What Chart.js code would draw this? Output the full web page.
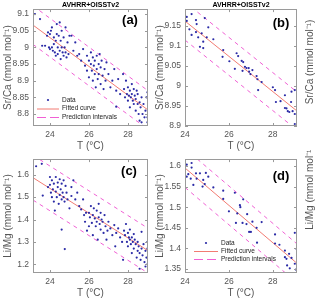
<!DOCTYPE html>
<html>
<head>
<meta charset="utf-8">
<script src="https://cdn.jsdelivr.net/npm/chart.js@4.4.0/dist/chart.umd.min.js"></script>
<style>
  html, body { margin: 0; padding: 0; background: #fff; }
  body { width: 320px; height: 300px; position: relative; overflow: hidden; }
  canvas { position: absolute; }
</style>
</head>
<body>
<canvas id="chart-a" width="160" height="153" style="left:0;top:0"></canvas>
<canvas id="chart-b" width="170" height="153" style="left:150px;top:0"></canvas>
<canvas id="chart-c" width="160" height="150" style="left:0;top:150px"></canvas>
<canvas id="chart-d" width="170" height="150" style="left:150px;top:150px"></canvas>
<script>
// Shared labels
const HEADER = 'AVHRR+OISSTv2';
const X_TITLE = 'T (°C)';
const SR_TITLE = 'Sr/Ca (mmol mol⁻¹)';
const LI_TITLE = 'Li/Mg (mmol mol⁻¹)';
const xTicks = [24, 26, 28];

// Panel (a): Sr/Ca, all samples
const aYTicks = [8.8, 8.85, 8.9, 8.95, 9, 9.05, 9.1];
const aPoints = [
    [23.23, 9.1], [23.49, 9.085], [23.6, 9.005], [23.75, 9.005], [23.85, 9.035], [23.9, 9.045],
    [23.95, 9.0], [24.0, 8.995], [24.0, 9.04], [24.05, 9.05], [24.1, 9.06], [24.1, 9.0],
    [24.15, 8.99], [24.2, 9.01], [24.2, 9.03], [24.25, 8.985], [24.3, 9.02], [24.3, 8.975],
    [24.35, 9.07], [24.35, 9.04], [24.4, 9.0], [24.4, 8.98], [24.45, 9.035], [24.5, 9.075],
    [24.5, 8.99], [24.55, 9.02], [24.55, 8.965], [24.6, 9.05], [24.6, 9.0], [24.65, 8.985],
    [24.7, 9.03], [24.7, 8.975], [24.75, 9.0], [24.8, 9.06], [24.8, 8.985], [24.85, 8.97],
    [24.9, 9.015], [24.95, 8.98], [25.0, 9.035], [25.1, 9.035], [25.2, 8.99], [25.3, 9.015],
    [25.4, 8.975], [25.5, 8.98], [25.6, 8.96], [25.7, 8.995], [25.8, 8.945], [25.9, 8.93],
    [25.9, 8.975], [26.0, 8.96], [26.0, 8.91], [26.1, 8.95], [26.1, 8.985], [26.15, 8.93],
    [26.2, 8.9], [26.2, 8.97], [26.25, 8.945], [26.3, 8.92], [26.3, 8.96], [26.35, 8.88],
    [26.4, 8.935], [26.4, 8.975], [26.45, 8.905], [26.5, 8.95], [26.5, 8.92], [26.55, 8.98],
    [26.6, 8.89], [26.6, 8.94], [26.65, 8.96], [26.7, 8.915], [26.75, 8.875], [26.8, 8.935],
    [26.85, 8.9], [26.9, 8.955], [27.0, 8.92], [27.1, 8.88], [27.2, 8.9], [27.3, 8.935],
    [27.4, 8.87], [27.4, 8.822], [27.5, 8.905], [27.6, 8.86], [27.75, 8.92], [27.8, 8.875],
    [27.85, 8.85], [27.9, 8.9], [27.95, 8.86], [28.0, 8.84], [28.0, 8.88], [28.05, 8.855],
    [28.1, 8.87], [28.1, 8.82], [28.15, 8.85], [28.2, 8.89], [28.2, 8.86], [28.25, 8.84],
    [28.3, 8.875], [28.3, 8.83], [28.35, 8.855], [28.4, 8.81], [28.4, 8.845], [28.45, 8.87],
    [28.5, 8.83], [28.5, 8.86], [28.55, 8.8], [28.6, 8.835], [28.6, 8.78], [28.65, 8.82],
    [28.7, 8.775], [28.7, 8.85], [28.75, 8.8], [28.8, 8.83], [28.85, 8.79], [28.9, 8.81],
    [28.95, 8.85], [29.0, 8.79], [29.0, 8.865], [29.0, 8.775]
];
const aFit = [[23.13, 9.067], [29.03, 8.812]];
const aUpper = [[23.13, 9.125], [29.03, 8.870]];
const aLower = [[23.13, 9.009], [29.03, 8.754]];

// Panel (b): Sr/Ca, subset
const bYTicks = [8.9, 8.95, 9, 9.05, 9.1, 9.15];
const bPoints = [
    [24.08, 9.173], [24.3, 9.18], [24.08, 9.163], [24.5, 9.165], [24.53, 9.155], [24.9, 9.17],
    [24.2, 9.142], [24.3, 9.128], [24.5, 9.135], [24.76, 9.132], [24.6, 9.122], [24.99, 9.122],
    [25.06, 9.147], [24.83, 9.111], [24.68, 9.098], [24.83, 9.095], [25.29, 9.117], [25.74, 9.09],
    [25.71, 9.073], [26.02, 9.062], [26.27, 9.043], [26.35, 9.082], [26.42, 9.075], [26.58, 9.063],
    [26.65, 9.06], [26.62, 9.038], [26.73, 9.048], [26.8, 9.045], [26.9, 9.045], [26.92, 9.036],
    [26.98, 9.03], [27.07, 9.04], [27.26, 9.025], [27.3, 9.017], [27.33, 8.99], [27.49, 9.01],
    [28.0, 8.997], [28.1, 8.99], [28.14, 8.96], [28.35, 8.962], [28.55, 8.977], [28.85, 8.986],
    [29.0, 8.99], [28.62, 8.944], [28.68, 8.937], [28.75, 8.935], [28.9, 8.937], [29.0, 8.93],
    [28.83, 8.96], [29.0, 8.905], [28.55, 8.945]
];
const bFit = [[24, 9.1625], [29.1, 8.9375]];
const bUpper = [[24, 9.21], [29.1, 8.985]];
const bLower = [[24, 9.115], [29.1, 8.89]];

// Panel (c): Li/Mg, all samples
const cYTicks = [1.2, 1.3, 1.4, 1.5, 1.6];
const cPoints = [
    [23.29, 1.638], [23.58, 1.649], [23.63, 1.507], [23.9, 1.545], [24.0, 1.59], [24.0, 1.555],
    [24.05, 1.52], [24.1, 1.575], [24.1, 1.5], [24.15, 1.535], [24.2, 1.48], [24.2, 1.56],
    [24.25, 1.44], [24.3, 1.59], [24.3, 1.525], [24.35, 1.5], [24.4, 1.565], [24.4, 1.545],
    [24.45, 1.47], [24.5, 1.58], [24.5, 1.51], [24.55, 1.535], [24.6, 1.355], [24.6, 1.56],
    [24.6, 1.49], [24.65, 1.52], [24.7, 1.575], [24.7, 1.5], [24.75, 1.48], [24.76, 1.268],
    [24.8, 1.55], [24.85, 1.52], [24.9, 1.49], [25.0, 1.45], [25.1, 1.545], [25.1, 1.505],
    [25.2, 1.575], [25.3, 1.49], [25.4, 1.52], [25.5, 1.46], [25.6, 1.445], [25.7, 1.49],
    [25.75, 1.42], [25.8, 1.39], [25.85, 1.43], [25.9, 1.35], [26.0, 1.37], [26.0, 1.43],
    [26.05, 1.41], [26.1, 1.46], [26.15, 1.385], [26.2, 1.33], [26.2, 1.42], [26.25, 1.45],
    [26.3, 1.405], [26.35, 1.37], [26.4, 1.44], [26.4, 1.39], [26.45, 1.31], [26.5, 1.47],
    [26.5, 1.41], [26.55, 1.38], [26.6, 1.43], [26.6, 1.355], [26.65, 1.4], [26.7, 1.39],
    [26.75, 1.34], [26.8, 1.42], [26.85, 1.37], [26.9, 1.31], [26.95, 1.35], [27.0, 1.39],
    [27.1, 1.36], [27.2, 1.33], [27.3, 1.375], [27.35, 1.28], [27.4, 1.34], [27.5, 1.36],
    [27.6, 1.32], [27.7, 1.3], [27.75, 1.22], [27.8, 1.35], [27.85, 1.33], [27.9, 1.38],
    [27.95, 1.3], [28.0, 1.34], [28.0, 1.28], [28.05, 1.32], [28.1, 1.31], [28.1, 1.355],
    [28.15, 1.29], [28.2, 1.32], [28.2, 1.25], [28.25, 1.3], [28.3, 1.335], [28.3, 1.27],
    [28.35, 1.31], [28.4, 1.29], [28.45, 1.23], [28.5, 1.3], [28.5, 1.26], [28.55, 1.28],
    [28.6, 1.25], [28.6, 1.18], [28.65, 1.22], [28.7, 1.27], [28.7, 1.345], [28.75, 1.24],
    [28.8, 1.29], [28.85, 1.21], [28.9, 1.26], [28.9, 1.19], [28.95, 1.23], [29.0, 1.3],
    [29.0, 1.27], [29.0, 1.2]
];
const cFit = [[23.13, 1.587], [29.03, 1.261]];
const cUpper = [[23.13, 1.687], [29.03, 1.361]];
const cLower = [[23.13, 1.487], [29.03, 1.161]];

// Panel (d): Li/Mg, subset
const dYTicks = [1.35, 1.4, 1.45, 1.5, 1.55, 1.6];
const dPoints = [
    [24.08, 1.603], [24.3, 1.607], [24.3, 1.596], [24.08, 1.574], [24.15, 1.58], [24.26, 1.569],
    [24.38, 1.554], [24.5, 1.582], [24.53, 1.569], [24.68, 1.582], [24.83, 1.566], [24.8, 1.55],
    [24.9, 1.556], [24.95, 1.583], [25.06, 1.574], [25.29, 1.548], [25.74, 1.54], [25.74, 1.52],
    [26.27, 1.535], [26.0, 1.49], [26.38, 1.485], [26.32, 1.462], [26.5, 1.505], [26.52, 1.5],
    [26.65, 1.519], [26.62, 1.462], [26.8, 1.459], [26.83, 1.483], [26.92, 1.44], [27.0, 1.44],
    [27.07, 1.465], [27.26, 1.45], [27.28, 1.414], [27.49, 1.464], [28.1, 1.434], [28.1, 1.412],
    [28.3, 1.409], [28.55, 1.395], [28.55, 1.379], [28.62, 1.375], [28.65, 1.359], [28.74, 1.387],
    [28.85, 1.377], [28.77, 1.352], [29.0, 1.438], [29.08, 1.399], [29.0, 1.363], [29.05, 1.349]
];
const dFit = [[24, 1.595], [29.1, 1.364]];
const dUpper = [[24, 1.642], [29.1, 1.411]];
const dLower = [[24, 1.548], [29.1, 1.317]];

// Styles
const FONT = '"Liberation Sans", Arial, Helvetica, sans-serif';
const DOT_COLOR = '#2a2aa6';
const FIT_COLOR = '#f27b72';
const PI_COLOR = '#f060d4';
const AXIS_TEXT = '#555555';
const BOX_COLOR = '#9a9a9a';

// Box, inward ticks, panel tag, header, in-axes legend, stray side label
const panelDecor = {
    id: 'panelDecor',
    afterDatasetsDraw(chart, args, opts) {
        const { ctx, chartArea: a, scales } = chart;
        ctx.save();
        ctx.strokeStyle = BOX_COLOR;
        ctx.lineWidth = 1;
        ctx.strokeRect(Math.round(a.left) + 0.5, Math.round(a.top) + 0.5,
            Math.round(a.right - a.left) - 1, Math.round(a.bottom - a.top) - 1);
        ctx.beginPath();
        scales.x.ticks.forEach(t => {
            const px = Math.round(scales.x.getPixelForValue(t.value)) + 0.5;
            ctx.moveTo(px, a.bottom); ctx.lineTo(px, a.bottom - 3);
            ctx.moveTo(px, a.top); ctx.lineTo(px, a.top + 3);
        });
        scales.y.ticks.forEach(t => {
            const py = Math.round(scales.y.getPixelForValue(t.value)) + 0.5;
            ctx.moveTo(a.left, py); ctx.lineTo(a.left + 3, py);
            ctx.moveTo(a.right, py); ctx.lineTo(a.right - 3, py);
        });
        ctx.stroke();

        ctx.fillStyle = '#000';
        ctx.textAlign = 'center';
        ctx.textBaseline = 'middle';
        ctx.font = `bold 13px ${FONT}`;
        ctx.fillText(opts.tag, a.right - opts.tagDx, a.top + opts.tagDy);

        if (opts.header) {
            ctx.font = `bold 7px ${FONT}`;
            ctx.fillText(opts.header, (a.left + a.right) / 2, 5);
        }

        if (opts.legend) {
            const L = opts.legend;
            const sets = chart.data.datasets;
            const items = sets.filter((ds, i) => sets.findIndex(d => d.label === ds.label) === i);
            ctx.font = `6.5px ${FONT}`;
            ctx.textAlign = 'left';
            items.forEach((ds, i) => {
                const yy = L.y + i * L.gap;
                if (ds.showLine) {
                    ctx.strokeStyle = ds.borderColor;
                    ctx.setLineDash(ds.borderDash ? [9, 4] : []);
                    ctx.beginPath();
                    ctx.moveTo(L.x0, yy + 0.5); ctx.lineTo(L.x1, yy + 0.5);
                    ctx.stroke();
                    ctx.setLineDash([]);
                } else {
                    ctx.fillStyle = ds.pointBackgroundColor;
                    ctx.beginPath();
                    ctx.arc((L.x0 + L.x1) / 2, yy, 1.1, 0, Math.PI * 2);
                    ctx.fill();
                }
                ctx.fillStyle = '#222';
                ctx.fillText(ds.label, L.x1 + 3, yy);
            });
        }

        if (opts.side) {
            ctx.translate(opts.side.x, opts.side.y);
            ctx.rotate(-Math.PI / 2);
            ctx.textAlign = 'center';
            ctx.fillStyle = AXIS_TEXT;
            ctx.font = `10px ${FONT}`;
            ctx.fillText(opts.side.text, 0, 0);
        }
        ctx.restore();
    }
};

const toXY = pairs => pairs.map(([x, y]) => ({ x, y }));

function buildPanel(id, p) {
    return new Chart(document.getElementById(id), {
        type: 'scatter',
        data: {
            datasets: [
                { label: 'Data', data: toXY(p.points), pointRadius: 1.1, pointBackgroundColor: DOT_COLOR, pointBorderWidth: 0 },
                { label: 'Fitted curve', data: toXY(p.fit), showLine: true, borderColor: FIT_COLOR, borderWidth: 1, pointRadius: 0 },
                { label: 'Prediction intervals', data: toXY(p.upper), showLine: true, borderColor: PI_COLOR, borderWidth: 1, borderDash: [4, 4], pointRadius: 0 },
                { label: 'Prediction intervals', data: toXY(p.lower), showLine: true, borderColor: PI_COLOR, borderWidth: 1, borderDash: [4, 4], pointRadius: 0 }
            ]
        },
        options: {
            responsive: false,
            animation: false,
            layout: { padding: { top: p.top, right: p.right, left: 0, bottom: 0 } },
            plugins: {
                legend: { display: false },
                tooltip: { enabled: false },
                panelDecor: p.decor
            },
            scales: {
                x: {
                    type: 'linear',
                    min: p.xMin, max: p.xMax,
                    border: { display: false },
                    grid: { display: false, drawTicks: false },
                    ticks: { color: AXIS_TEXT, font: { family: FONT, size: 8.5 }, padding: 4 },
                    afterBuildTicks: s => { s.ticks = xTicks.map(v => ({ value: v })); },
                    afterFit: s => { s.height = p.xAxisH; },
                    title: { display: true, text: X_TITLE, color: AXIS_TEXT, font: { family: FONT, size: 10, lineHeight: 1 }, padding: { top: 0, bottom: 2 } }
                },
                y: {
                    type: 'linear',
                    min: p.yMin, max: p.yMax,
                    border: { display: false },
                    grid: { display: false, drawTicks: false },
                    ticks: { color: AXIS_TEXT, font: { family: FONT, size: 8.5 }, padding: 4, callback: v => String(v) },
                    afterBuildTicks: s => { s.ticks = p.yTicks.map(v => ({ value: v })); },
                    afterFit: s => { s.width = p.yAxisW; },
                    title: { display: true, text: p.yTitle, color: AXIS_TEXT, font: { family: FONT, size: 10, lineHeight: 1 }, padding: { top: p.yTitlePad, bottom: 0 } }
                }
            }
        },
        plugins: [panelDecor]
    });
}

buildPanel('chart-a', {
    points: aPoints, fit: aFit, upper: aUpper, lower: aLower,
    xMin: 23.13, xMax: 29.03, yMin: 8.764, yMax: 9.115, yTicks: aYTicks, yTitle: SR_TITLE,
    top: 9, right: 12, yAxisW: 33, xAxisH: 27, yTitlePad: 3,
    decor: { tag: '(a)', tagDx: 18, tagDy: 11, header: HEADER, legend: { x0: 37, x1: 59, y: 100, gap: 8.5 } }
});

buildPanel('chart-b', {
    points: bPoints, fit: bFit, upper: bUpper, lower: bLower,
    xMin: 24, xMax: 29.1, yMin: 8.9, yMax: 9.1925, yTicks: bYTicks, yTitle: SR_TITLE,
    top: 9, right: 23, yAxisW: 35, xAxisH: 27, yTitlePad: 5,
    decor: { tag: '(b)', tagDx: 16, tagDy: 14, header: HEADER, side: { text: SR_TITLE, x: 160, y: 62 } }
});

buildPanel('chart-c', {
    points: cPoints, fit: cFit, upper: cUpper, lower: cLower,
    xMin: 23.13, xMax: 29.03, yMin: 1.161, yMax: 1.67, yTicks: cYTicks, yTitle: LI_TITLE,
    top: 6, right: 12, yAxisW: 33, xAxisH: 27, yTitlePad: 3,
    decor: { tag: '(c)', tagDx: 19, tagDy: 12 }
});

buildPanel('chart-d', {
    points: dPoints, fit: dFit, upper: dUpper, lower: dLower,
    xMin: 24, xMax: 29.1, yMin: 1.3406, yMax: 1.6165, yTicks: dYTicks, yTitle: LI_TITLE,
    top: 6, right: 23, yAxisW: 35, xAxisH: 27, yTitlePad: 5,
    decor: { tag: '(d)', tagDx: 16, tagDy: 17, legend: { x0: 44, x1: 68, y: 93, gap: 8 }, side: { text: LI_TITLE, x: 160, y: 38 } }
});
</script>
</body>
</html>
